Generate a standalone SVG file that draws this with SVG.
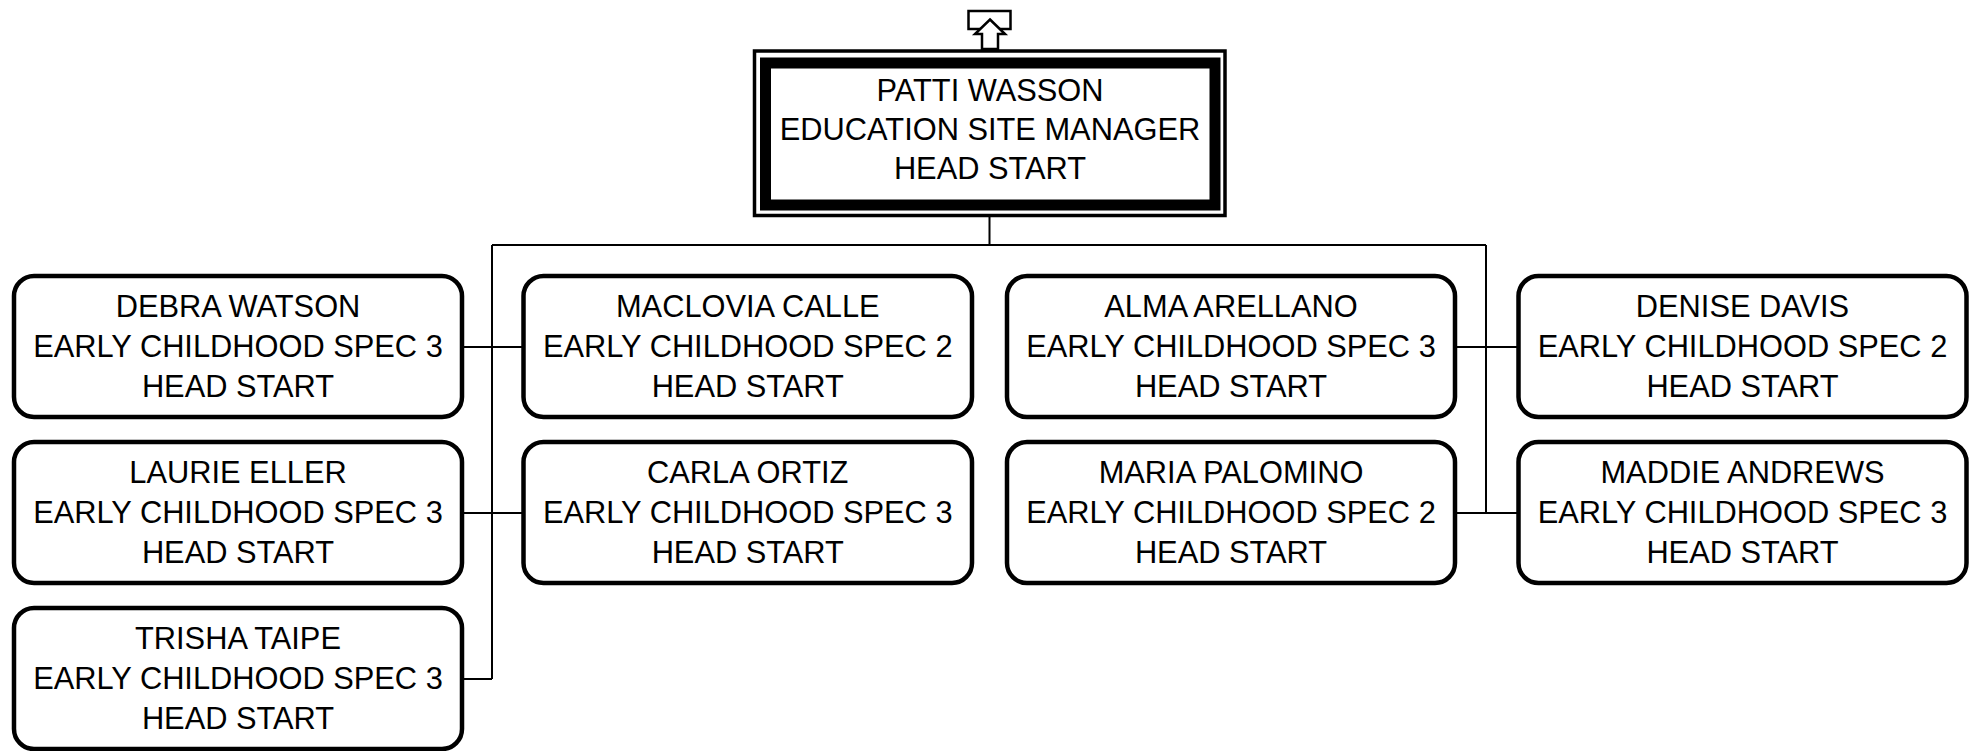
<svg xmlns="http://www.w3.org/2000/svg" width="1979" height="751" viewBox="0 0 1979 751">
<style>
.box{fill:#fff;stroke:#000;stroke-width:4.5}
.t{font-family:"Liberation Sans",Arial,sans-serif;font-size:30.8px;fill:#000;text-anchor:middle}
.c{fill:none;stroke:#000;stroke-width:2}
</style>
<rect width="1979" height="751" fill="#fff"/>
<g id="connectors">
<path class="c" d="M989.5 216V245M492 245H1486M492 245V679M1486 245V513"/>
<path class="c" d="M462 347H523.5M462 513H523.5M462 679H492M1455 347H1518.5M1455 513H1518.5"/>
</g>
<g id="up-icon">
<rect x="968.5" y="11" width="42" height="18" fill="#fff" stroke="#000" stroke-width="2.5"/>
<polygon points="990,19.5 1005,34 998,34 998,49 982,49 982,34 975,34" fill="#fff" stroke="#000" stroke-width="2.5" stroke-linejoin="miter"/>
</g>
<g id="patti-wasson">
<rect x="754.5" y="51" width="470.5" height="164.5" fill="#fff" stroke="#000" stroke-width="3.5"/>
<rect x="765.5" y="63" width="449.5" height="142" fill="#fff" stroke="#000" stroke-width="11"/>
<text class="t" x="990" y="101">PATTI WASSON</text>
<text class="t" x="990" y="140">EDUCATION SITE MANAGER</text>
<text class="t" x="990" y="179">HEAD START</text>
</g>
<g id="debra-watson">
<rect class="box" x="14" y="276" width="448" height="141" rx="20"/>
<text class="t" x="238" y="317">DEBRA WATSON</text>
<text class="t" x="238" y="357">EARLY CHILDHOOD SPEC 3</text>
<text class="t" x="238" y="397">HEAD START</text>
</g>
<g id="laurie-eller">
<rect class="box" x="14" y="442" width="448" height="141" rx="20"/>
<text class="t" x="238" y="483">LAURIE ELLER</text>
<text class="t" x="238" y="523">EARLY CHILDHOOD SPEC 3</text>
<text class="t" x="238" y="563">HEAD START</text>
</g>
<g id="trisha-taipe">
<rect class="box" x="14" y="608" width="448" height="141" rx="20"/>
<text class="t" x="238" y="649">TRISHA TAIPE</text>
<text class="t" x="238" y="689">EARLY CHILDHOOD SPEC 3</text>
<text class="t" x="238" y="729">HEAD START</text>
</g>
<g id="maclovia-calle">
<rect class="box" x="523.5" y="276" width="448.5" height="141" rx="20"/>
<text class="t" x="747.75" y="317">MACLOVIA CALLE</text>
<text class="t" x="747.75" y="357">EARLY CHILDHOOD SPEC 2</text>
<text class="t" x="747.75" y="397">HEAD START</text>
</g>
<g id="carla-ortiz">
<rect class="box" x="523.5" y="442" width="448.5" height="141" rx="20"/>
<text class="t" x="747.75" y="483">CARLA ORTIZ</text>
<text class="t" x="747.75" y="523">EARLY CHILDHOOD SPEC 3</text>
<text class="t" x="747.75" y="563">HEAD START</text>
</g>
<g id="alma-arellano">
<rect class="box" x="1007" y="276" width="448" height="141" rx="20"/>
<text class="t" x="1231" y="317">ALMA ARELLANO</text>
<text class="t" x="1231" y="357">EARLY CHILDHOOD SPEC 3</text>
<text class="t" x="1231" y="397">HEAD START</text>
</g>
<g id="maria-palomino">
<rect class="box" x="1007" y="442" width="448" height="141" rx="20"/>
<text class="t" x="1231" y="483">MARIA PALOMINO</text>
<text class="t" x="1231" y="523">EARLY CHILDHOOD SPEC 2</text>
<text class="t" x="1231" y="563">HEAD START</text>
</g>
<g id="denise-davis">
<rect class="box" x="1518.5" y="276" width="448" height="141" rx="20"/>
<text class="t" x="1742.5" y="317">DENISE DAVIS</text>
<text class="t" x="1742.5" y="357">EARLY CHILDHOOD SPEC 2</text>
<text class="t" x="1742.5" y="397">HEAD START</text>
</g>
<g id="maddie-andrews">
<rect class="box" x="1518.5" y="442" width="448" height="141" rx="20"/>
<text class="t" x="1742.5" y="483">MADDIE ANDREWS</text>
<text class="t" x="1742.5" y="523">EARLY CHILDHOOD SPEC 3</text>
<text class="t" x="1742.5" y="563">HEAD START</text>
</g>
</svg>
